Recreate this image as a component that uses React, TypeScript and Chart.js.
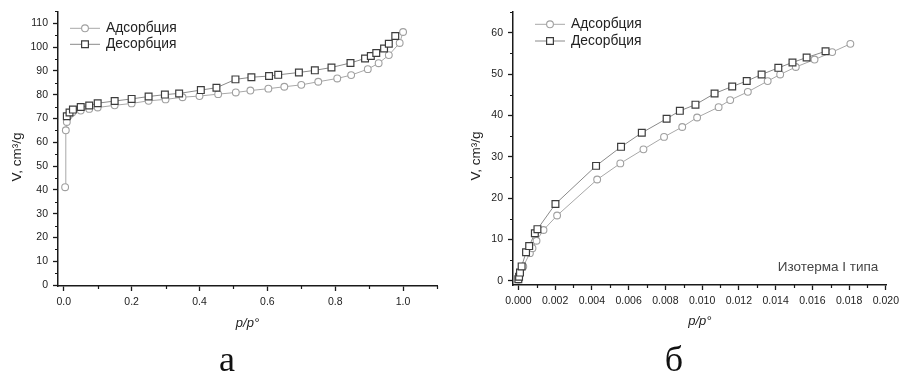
import React, { useEffect, useRef } from "react";
import { Chart, registerables } from "chart.js";

Chart.register(...registerables);

// ---------- Panel а ----------
const A_ADS_P = [0.004, 0.006, 0.009, 0.015, 0.025, 0.05, 0.075, 0.1, 0.15, 0.2, 0.25, 0.3, 0.35, 0.4, 0.455, 0.507, 0.55, 0.603, 0.65, 0.7, 0.75, 0.806, 0.847, 0.896, 0.928, 0.958, 0.99, 1.0];
const A_ADS_V = [41.1, 65, 68.5, 71.2, 72.5, 73.3, 74, 74.6, 75.5, 76.3, 77.4, 78, 78.9, 79.4, 80.2, 80.9, 81.7, 82.5, 83.3, 84.1, 85.4, 86.8, 88.2, 90.7, 93.2, 96.6, 101.7, 106.3];
const A_DES_P = [0.009, 0.017, 0.027, 0.05, 0.075, 0.1, 0.15, 0.2, 0.25, 0.298, 0.34, 0.404, 0.45, 0.506, 0.553, 0.605, 0.632, 0.693, 0.74, 0.789, 0.845, 0.888, 0.905, 0.921, 0.944, 0.958, 0.977];
const A_DES_V = [70.9, 72.5, 73.7, 74.8, 75.4, 76.4, 77.3, 78.2, 79.2, 80, 80.5, 81.9, 82.9, 86.4, 87.3, 87.8, 88.3, 89.3, 90.2, 91.4, 93.3, 95.2, 96.2, 97.5, 99.4, 101.4, 104.6];
const A_X_TICKS = [0, 0.2, 0.4, 0.6, 0.8, 1.0];
const A_X_LABELS = ["0.0", "0.2", "0.4", "0.6", "0.8", "1.0"];
const A_X_MINOR = [0.1, 0.3, 0.5, 0.7, 0.9, 1.1];
const A_Y_TICKS = [0, 10, 20, 30, 40, 50, 60, 70, 80, 90, 100, 110];
const A_Y_LABELS = ["0", "10", "20", "30", "40", "50", "60", "70", "80", "90", "100", "110"];
const A_Y_MINOR = [5, 15, 25, 35, 45, 55, 65, 75, 85, 95, 105, 115];

// ---------- Panel б ----------
const B_ADS_P = [0.00002, 0.00005, 0.0001, 0.00027, 0.00063, 0.00077, 0.00099, 0.00137, 0.00211, 0.00429, 0.00555, 0.00681, 0.00793, 0.00892, 0.00973, 0.0109, 0.01153, 0.01249, 0.01357, 0.01425, 0.0151, 0.01612, 0.01708, 0.01807];
const B_ADS_V = [0.3, 1, 2, 3.5, 6.7, 7.9, 9.7, 12.3, 15.8, 24.5, 28.4, 31.8, 34.8, 37.2, 39.5, 42, 43.7, 45.7, 48.3, 49.9, 51.7, 53.5, 55.3, 57.3];
const B_DES_P = [0.0, 0.00004, 0.00009, 0.00018, 0.00042, 0.00059, 0.0009, 0.00104, 0.00202, 0.00423, 0.00559, 0.00672, 0.00807, 0.00879, 0.00964, 0.01068, 0.01164, 0.01243, 0.01324, 0.01415, 0.01492, 0.01569, 0.01672];
const B_DES_V = [0.4, 1, 2, 3.5, 6.9, 8.4, 11.5, 12.5, 18.6, 27.8, 32.4, 35.8, 39.2, 41.1, 42.6, 45.3, 47, 48.3, 49.9, 51.5, 52.8, 54, 55.5];
const B_X_TICKS = [0, 0.002, 0.004, 0.006, 0.008, 0.01, 0.012, 0.014, 0.016, 0.018, 0.02];
const B_X_LABELS = ["0.000", "0.002", "0.004", "0.006", "0.008", "0.010", "0.012", "0.014", "0.016", "0.018", "0.020"];
const B_X_MINOR = [0.001, 0.003, 0.005, 0.007, 0.009, 0.011, 0.013, 0.015, 0.017, 0.019];
const B_Y_TICKS = [0, 10, 20, 30, 40, 50, 60];
const B_Y_LABELS = ["0", "10", "20", "30", "40", "50", "60"];
const B_Y_MINOR = [5, 15, 25, 35, 45, 55, 65];

const SERIES_NAMES = ["Адсорбция", "Десорбция"];
const Y_TITLE = "V, cm³/g";
const X_TITLE = "p/p°";
const NOTE_B = "Изотерма I типа";
const PANEL_LABELS = ["а", "б"];

const SANS = '"Liberation Sans", Arial, sans-serif';
const TEXT = "#222";
const AXIS = "#1a1a1a";
const ADS_LINE = "#a8a8a8";
const ADS_MARK = "#a0a0a0";
const DES_LINE = "#8a8a8a";
const DES_MARK = "#3c3c3c";

Chart.defaults.font.family = SANS;

type Spec = {
  adsP: number[]; adsV: number[]; desP: number[]; desV: number[];
  xTicks: number[]; xLabels: string[]; xMinor: number[];
  yTicks: number[]; yLabels: string[]; yMinor: number[];
  xMin: number; xMax: number; yMin: number; yMax: number;
  padTop: number; padRight: number; yAxisW: number; xAxisH: number;
  yTitleX: number; yTitleY: number; xTitlePad: number;
  legX: number; legY: number; legGap: number;
};

const SPEC_A: Spec = {
  adsP: A_ADS_P, adsV: A_ADS_V, desP: A_DES_P, desV: A_DES_V,
  xTicks: A_X_TICKS, xLabels: A_X_LABELS, xMinor: A_X_MINOR,
  yTicks: A_Y_TICKS, yLabels: A_Y_LABELS, yMinor: A_Y_MINOR,
  xMin: -0.017, xMax: 1.1, yMin: -0.4, yMax: 115,
  padTop: 10, padRight: 13, yAxisW: 58, xAxisH: 59,
  yTitleX: 17.5, yTitleY: 157, xTitlePad: 14,
  legX: 70, legY: 28.3, legGap: 16,
};

const SPEC_B: Spec = {
  adsP: B_ADS_P, adsV: B_ADS_V, desP: B_DES_P, desV: B_DES_V,
  xTicks: B_X_TICKS, xLabels: B_X_LABELS, xMinor: B_X_MINOR,
  yTicks: B_Y_TICKS, yLabels: B_Y_LABELS, yMinor: B_Y_MINOR,
  xMin: -0.00029, xMax: 0.02005, yMin: -1, yMax: 65,
  padTop: 12, padRight: 14, yAxisW: 59, xAxisH: 60,
  yTitleX: 22, yTitleY: 156, xTitlePad: 15.5,
  legX: 81, legY: 24.3, legGap: 16.7,
};

function drawMarker(ctx: CanvasRenderingContext2D, ds: any, x: number, y: number) {
  const r = ds.pointRadius;
  ctx.save();
  ctx.fillStyle = ds.pointBackgroundColor;
  ctx.strokeStyle = ds.pointBorderColor;
  ctx.lineWidth = ds.pointBorderWidth;
  ctx.beginPath();
  if (ds.pointStyle === "rect") {
    const h = Math.SQRT1_2 * r;
    ctx.rect(x - h, y - h, 2 * h, 2 * h);
  } else {
    ctx.arc(x, y, r, 0, Math.PI * 2);
  }
  ctx.fill();
  ctx.stroke();
  ctx.restore();
}

function makePlugins(s: Spec) {
  const minor = {
    id: "minorTicks",
    afterDraw(chart: any) {
      const ctx = chart.ctx;
      const xs = chart.scales.x;
      const ys = chart.scales.y;
      ctx.save();
      ctx.strokeStyle = AXIS;
      ctx.lineWidth = 1.2;
      ctx.beginPath();
      s.xMinor.forEach((v) => {
        const px = Math.round(xs.getPixelForValue(v)) + 0.5;
        ctx.moveTo(px, xs.top);
        ctx.lineTo(px, xs.top + 3);
      });
      s.yMinor.forEach((v) => {
        const py = Math.round(ys.getPixelForValue(v)) + 0.5;
        ctx.moveTo(ys.right, py);
        ctx.lineTo(ys.right - 3, py);
      });
      ctx.stroke();
      ctx.restore();
    },
  };
  const texts = {
    id: "isoTexts",
    afterDraw(chart: any) {
      const ctx = chart.ctx;
      // y-axis title
      ctx.save();
      ctx.translate(s.yTitleX, s.yTitleY);
      ctx.rotate(-Math.PI / 2);
      ctx.fillStyle = TEXT;
      ctx.font = "13.5px " + SANS;
      ctx.textAlign = "center";
      ctx.textBaseline = "middle";
      ctx.fillText(Y_TITLE, 0, 0);
      ctx.restore();
      // legend
      chart.data.datasets.forEach((ds: any, i: number) => {
        const y = s.legY + i * s.legGap;
        ctx.save();
        ctx.strokeStyle = ds.borderColor;
        ctx.lineWidth = 1;
        ctx.beginPath();
        ctx.moveTo(s.legX, y);
        ctx.lineTo(s.legX + 30, y);
        ctx.stroke();
        drawMarker(ctx, ds, s.legX + 15, y);
        ctx.fillStyle = TEXT;
        ctx.font = "13.8px " + SANS;
        ctx.textBaseline = "middle";
        ctx.textAlign = "left";
        ctx.fillText(ds.label, s.legX + 36, y);
        ctx.restore();
      });
    },
  };
  return [minor, texts];
}

function buildConfig(s: Spec): any {
  const pts = (xs: number[], ys: number[]) => xs.map((x, i) => ({ x, y: ys[i] }));
  return {
    type: "scatter",
    data: {
      datasets: [
        {
          label: SERIES_NAMES[0],
          data: pts(s.adsP, s.adsV),
          showLine: true,
          borderColor: ADS_LINE,
          borderWidth: 1,
          pointStyle: "circle",
          pointRadius: 3.4,
          pointBorderColor: ADS_MARK,
          pointBackgroundColor: "#ffffff",
          pointBorderWidth: 1.1,
          order: 1,
        },
        {
          label: SERIES_NAMES[1],
          data: pts(s.desP, s.desV),
          showLine: true,
          borderColor: DES_LINE,
          borderWidth: 1,
          pointStyle: "rect",
          pointRadius: 4.8,
          pointBorderColor: DES_MARK,
          pointBackgroundColor: "#ffffff",
          pointBorderWidth: 1.2,
          order: 0,
        },
      ],
    },
    options: {
      responsive: false,
      animation: false,
      devicePixelRatio: 1,
      layout: { padding: { top: s.padTop, right: s.padRight, left: 0, bottom: 0 } },
      plugins: { legend: { display: false }, tooltip: { enabled: false } },
      scales: {
        x: {
          type: "linear",
          position: "bottom",
          min: s.xMin,
          max: s.xMax,
          afterBuildTicks: (sc: any) => {
            sc.ticks = s.xTicks.map((v) => ({ value: v }));
          },
          afterFit: (sc: any) => {
            sc.height = s.xAxisH;
          },
          ticks: {
            callback: (_v: any, i: number) => s.xLabels[i],
            autoSkip: false,
            maxRotation: 0,
            padding: 5,
            color: TEXT,
            font: { size: 10.5 },
          },
          grid: { drawOnChartArea: false, drawTicks: true, tickLength: 5, tickColor: AXIS, tickWidth: 1.3 },
          border: { color: AXIS, width: 1.5 },
          title: {
            display: true,
            text: X_TITLE,
            color: TEXT,
            font: { size: 13, style: "italic" },
            padding: { top: 0, bottom: s.xTitlePad },
          },
        },
        y: {
          type: "linear",
          position: "left",
          min: s.yMin,
          max: s.yMax,
          afterBuildTicks: (sc: any) => {
            sc.ticks = s.yTicks.map((v) => ({ value: v }));
          },
          afterFit: (sc: any) => {
            sc.width = s.yAxisW;
          },
          ticks: {
            callback: (_v: any, i: number) => s.yLabels[i],
            autoSkip: false,
            padding: 5,
            color: TEXT,
            font: { size: 10.5 },
          },
          grid: { drawOnChartArea: false, drawTicks: true, tickLength: 5, tickColor: AXIS, tickWidth: 1.3 },
          border: { color: AXIS, width: 1.5 },
          title: { display: false },
        },
      },
    },
    plugins: makePlugins(s),
  };
}

function Panel({ left, spec }: { left: number; spec: Spec }) {
  const ref = useRef<HTMLCanvasElement>(null);
  useEffect(() => {
    const chart = new Chart(ref.current as HTMLCanvasElement, buildConfig(spec));
    return () => chart.destroy();
  }, [spec]);
  return (
    <canvas
      ref={ref}
      width={450}
      height={345}
      style={{ position: "absolute", left, top: 0, width: 450, height: 345 }}
    />
  );
}

const serifLabel: React.CSSProperties = {
  position: "absolute",
  top: 341,
  font: '36px "Liberation Serif", "Times New Roman", serif',
  lineHeight: "36px",
  color: "#111",
  transform: "translateX(-50%)",
  whiteSpace: "nowrap",
};

export default function App() {
  return (
    <div
      style={{
        position: "absolute",
        left: 0,
        top: 0,
        width: 904,
        height: 375,
        background: "#fff",
        overflow: "hidden",
      }}
    >
      <Panel left={0} spec={SPEC_A} />
      <Panel left={454} spec={SPEC_B} />
      <div
        style={{
          position: "absolute",
          left: 828,
          top: 266.7,
          transform: "translate(-50%, -50%)",
          font: "13.5px " + SANS,
          lineHeight: 1,
          color: "#444",
          whiteSpace: "nowrap",
        }}
      >
        {NOTE_B}
      </div>
      <div style={{ ...serifLabel, left: 227 }}>{PANEL_LABELS[0]}</div>
      <div style={{ ...serifLabel, left: 674 }}>{PANEL_LABELS[1]}</div>
    </div>
  );
}
